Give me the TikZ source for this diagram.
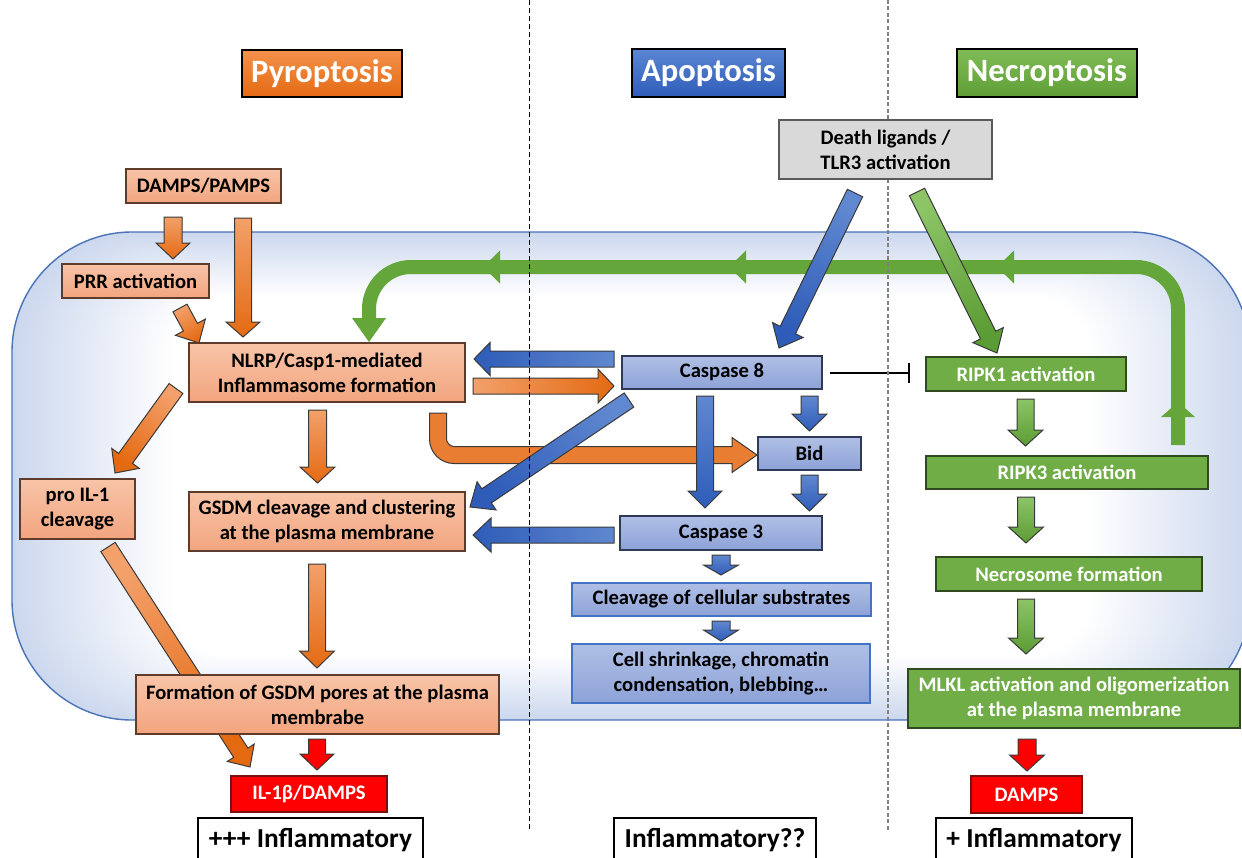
\documentclass[tikz,border=0pt]{standalone}
\usepackage{fontspec}
\setmainfont{Carlito}
\usetikzlibrary{calc,arrows.meta}
\definecolor{pyroT}{HTML}{F8C4A8}
\definecolor{pyroB}{HTML}{F2A57F}
\definecolor{pyroEdge}{HTML}{5E3B2A}
\definecolor{apoT}{HTML}{AFBFE5}
\definecolor{apoB}{HTML}{8EA2D8}
\definecolor{apoEdge}{HTML}{2E3A57}
\definecolor{apoLine}{HTML}{4472C4}
\definecolor{necG}{HTML}{70AD47}
\definecolor{necEdge}{HTML}{2F4A1E}
\definecolor{redF}{HTML}{FF0000}
\definecolor{redEdge}{HTML}{7A1010}
\definecolor{grayF}{HTML}{D9D9D9}
\definecolor{grayEdge}{HTML}{5A5A5A}
\definecolor{orTitT}{HTML}{F4914C}
\definecolor{orTitB}{HTML}{E46A12}
\definecolor{blTitT}{HTML}{5B86D3}
\definecolor{blTitB}{HTML}{2F5DB8}
\definecolor{grTitT}{HTML}{80BC56}
\definecolor{grTitB}{HTML}{5F9E37}
\definecolor{orA}{HTML}{F3A06A}
\definecolor{orB}{HTML}{E46A12}
\definecolor{blA}{HTML}{6088D0}
\definecolor{blB}{HTML}{2E5CB8}
\definecolor{grA}{HTML}{8CC466}
\definecolor{grB}{HTML}{5C9C34}
\definecolor{arrowEdge}{HTML}{3A3A3A}
\definecolor{fbGreen}{HTML}{64A63A}
\definecolor{cellBlue}{HTML}{CCD8EE}
\definecolor{cellEdge}{HTML}{4A72B8}
\newcommand\myfontb{\fontsize{10.3}{12.5}\selectfont\bfseries}
\newcommand\myfontt{\fontsize{16.3}{19}\selectfont\bfseries}
\newcommand\myfontv{\fontsize{13.7}{16}\selectfont\bfseries}
\newdimen\fadx
\newdimen\fady
% #1 style, #2 tail, #3 tip, #4 half shaft, #5 half head, #6 head length
\newcommand\fatarrow[6]{%
  \path #2 coordinate (faA);
  \path #3 coordinate (faB);
  \path ($(faB)!#6!(faA)$) coordinate (faH);
  \pgfextractx{\fadx}{\pgfpointdiff{\pgfpointanchor{faA}{center}}{\pgfpointanchor{faB}{center}}}%
  \pgfextracty{\fady}{\pgfpointdiff{\pgfpointanchor{faA}{center}}{\pgfpointanchor{faB}{center}}}%
  \pgfmathsetmacro\faang{atan2(\fady,\fadx)+90}%
  \path[#1, shading angle=\faang] ($(faA)!#4!90:(faB)$) -- ($(faH)!#4!90:(faB)$) -- ($(faH)!#5!90:(faB)$) -- (faB) -- ($(faH)!#5!-90:(faB)$) -- ($(faH)!#4!-90:(faB)$) -- ($(faA)!#4!-90:(faB)$) -- cycle;
}
\pgfdeclarelayer{bg}
\pgfdeclarelayer{dash}
\pgfdeclarelayer{fg}
\pgfsetlayers{bg,main,dash,fg}
\begin{document}
\begin{tikzpicture}[x=0.5pt,y=-0.5pt,
  box/.style={inner sep=0pt, outer sep=0pt, align=center, font=\myfontb, line width=0.6pt},
  pyrobox/.style={box, top color=pyroT, bottom color=pyroB, draw=pyroEdge},
  apobox/.style={box, top color=apoT, bottom color=apoB, draw=apoEdge},
  apolbox/.style={box, top color=apoT, bottom color=apoB, draw=apoLine},
  necbox/.style={box, fill=necG, draw=necEdge, text=white},
  redbox/.style={box, fill=redF, draw=redEdge, text=white},
  graybox/.style={box, fill=grayF, draw=grayEdge},
  verdict/.style={box, fill=white, draw=black, line width=0.7pt, font=\myfontv},
  titlebox/.style={inner sep=0pt, outer sep=0pt, draw=black, line width=1.2pt, text=white, font=\myfontt},
  orarrow/.style={top color=orA, bottom color=orB, draw=arrowEdge, line width=0.5pt},
  blarrow/.style={top color=blA, bottom color=blB, draw=arrowEdge, line width=0.5pt},
  grarrow/.style={top color=grA, bottom color=grB, draw=arrowEdge, line width=0.5pt},
  redarrow/.style={top color=redF, bottom color=redF, draw=arrowEdge, line width=0.5pt},
  fbline/.style={draw=fbGreen, line width=7pt, rounded corners=21pt},
  fbhead/.style={fill=fbGreen}
]
\useasboundingbox (0,0) rectangle (1242,857);

% ---------------- cell ----------------
\begin{pgfonlayer}{bg}
  \foreach \i in {0,...,40}{
    \pgfmathsetmacro\ix{\i*4}
    \pgfmathsetmacro\iy{\i*1.6}
    \pgfmathsetmacro\pc{100-\i*2.5}
    \pgfmathsetmacro\rc{60-\i*0.8}
    \fill[cellBlue!\pc!white, rounded corners=\rc pt] ({12+\ix},{232+\iy}) rectangle ({1250-\ix},{720-\iy});
  }
  \draw[cellEdge, line width=0.7pt, rounded corners=60pt] (12,232) rectangle (1250,720);
\end{pgfonlayer}

% ---------------- nodes ----------------
\begin{pgfonlayer}{fg}
  \node[titlebox, top color=orTitT, bottom color=orTitB, minimum width=80pt, minimum height=23.5pt] (tpyro) at (322,73.5) {Pyroptosis};
  \node[titlebox, top color=blTitT, bottom color=blTitB, minimum width=76.5pt, minimum height=24pt] (tapo) at (708.5,73) {Apoptosis};
  \node[titlebox, top color=grTitT, bottom color=grTitB, minimum width=90pt, minimum height=24pt] (tnec) at (1047,73) {Necroptosis};

  \node[pyrobox, minimum width=77.5pt, minimum height=17pt] (damps) at (203.5,186) {DAMPS/PAMPS};
  \node[pyrobox, minimum width=73.5pt, minimum height=17pt] (prr) at (135.5,281) {PRR activation};
  \node[pyrobox, minimum width=138pt, minimum height=29.5pt] (nlrp) at (327,372.5) {NLRP/Casp1-mediated\\Inflammasome formation};
  \node[pyrobox, minimum width=57.5pt, minimum height=30pt] (proil) at (77.5,509) {pro IL-1\\cleavage};
  \node[pyrobox, minimum width=138pt, minimum height=29.5pt] (gsdm) at (327,521.5) {GSDM cleavage and clustering\\at the plasma membrane};
  \node[pyrobox, minimum width=181.5pt, minimum height=29.5pt] (form) at (317.5,704.5) {Formation of GSDM pores at the plasma\\membrabe};
  \node[redbox, minimum width=78pt, minimum height=18pt] (il1b) at (309,794) {IL-1β/DAMPS};
  \node[verdict, minimum width=112.5pt, minimum height=22pt] (inf1) at (310.5,840) {+++ Inflammatory};

  \node[graybox, minimum width=106.5pt, minimum height=29.5pt] (death) at (885.5,149.5) {Death ligands /\\TLR3 activation};
  \node[apobox, minimum width=100pt, minimum height=16.5pt] (casp8) at (722,372.5) {Caspase 8};
  \node[apobox, minimum width=51.5pt, minimum height=16.5pt] (bid) at (809.5,453.5) {Bid};
  \node[apobox, minimum width=101pt, minimum height=17pt] (casp3) at (721,533) {Caspase 3};
  \node[apolbox, minimum width=149.5pt, minimum height=16.5pt] (cleav) at (721.5,599.5) {Cleavage of cellular substrates};
  \node[apolbox, minimum width=149pt, minimum height=29.5pt] (shrink) at (721,673.5) {Cell shrinkage, chromatin\\condensation, blebbing…};
  \node[verdict, minimum width=101pt, minimum height=22pt] (inf2) at (715,840) {Inflammatory??};

  \node[necbox, minimum width=100pt, minimum height=17pt] (ripk1) at (1026,374) {RIPK1 activation};
  \node[necbox, minimum width=141pt, minimum height=16.5pt] (ripk3) at (1067,472.5) {RIPK3 activation};
  \node[necbox, minimum width=133pt, minimum height=17pt] (necro) at (1069,574) {Necrosome formation};
  \node[necbox, minimum width=166pt, minimum height=29.5pt] (mlkl) at (1074,698.5) {MLKL activation and oligomerization\\at the plasma membrane};
  \node[redbox, minimum width=55.5pt, minimum height=18.5pt] (damps2) at (1026.5,794.5) {DAMPS};
  \node[verdict, minimum width=98pt, minimum height=22pt] (inf3) at (1034,840) {+ Inflammatory};
\end{pgfonlayer}

% ---------------- dashed separators ----------------
\begin{pgfonlayer}{dash}
  \coordinate (sepAtop) at (529,0);
  \coordinate (sepAbot) at (529,830);
  \coordinate (sepBtop) at (888,0);
  \coordinate (sepBbot) at (888,830);
  \draw[black, line width=0.5pt, dash pattern=on 2.5pt off 1.5pt] (sepAtop) -- (sepAbot);
  \draw[black!50, line width=0.8pt, dash pattern=on 2pt off 1.2pt] (sepBtop) -- (sepBbot);
\end{pgfonlayer}

% ---------------- green feedback loop ----------------
\coordinate (fbs) at ([shift={(111,-11)}]ripk3.north);
\coordinate (fbm) at (700,267);
\coordinate (fbe) at ([shift={(42,-25)}]nlrp.north);
\draw[fbline] (fbs) |- (fbm) -| (fbe);
\fill[fbhead] ([shift={(-17,0)}]fbe) -- ([shift={(42,-1)}]nlrp.north) -- ([shift={(17,0)}]fbe) -- cycle;
\fill[fbhead] (1161,417) -- (1178,402) -- (1195,417) -- cycle;
\foreach \tx in {483,729,997}{
  \fill[fbhead] (\tx,267) -- ({\tx+17},250.5) -- ({\tx+17},283.5) -- cycle;
}

% ---------------- pyroptosis arrows ----------------
\fatarrow{orarrow}{([shift={(-30.5,14)}]damps.south)}{([shift={(37.5,-5)}]prr.north)}{4.5pt}{8.5pt}{8pt}
\fatarrow{orarrow}{([shift={(39.5,15)}]damps.south)}{([shift={(-84,-6)}]nlrp.north)}{4.25pt}{8.5pt}{7.5pt}
\fatarrow{orarrow}{([shift={(44.5,10)}]prr.south)}{([shift={(10,0)}]nlrp.north west)}{4pt}{8.5pt}{9pt}
\fatarrow{orarrow}{([shift={(-13,-13.5)}]nlrp.south west)}{([shift={(37.5,-6)}]proil.north)}{4.25pt}{8.5pt}{9pt}
\fatarrow{orarrow}{([shift={(-9.5,8)}]nlrp.south)}{([shift={(-9.5,-9)}]gsdm.north)}{4.5pt}{8.75pt}{8pt}
\fatarrow{orarrow}{([shift={(-10,13)}]gsdm.south)}{([shift={(-0.5,-7)}]form.north)}{4.25pt}{8.75pt}{8.5pt}
\fatarrow{orarrow}{([shift={(30.5,8)}]proil.south)}{([shift={(19,-9)}]il1b.north west)}{4.25pt}{8pt}{8.5pt}
\fatarrow{orarrow}{([shift={(8,13.5)}]nlrp.east)}{([shift={(-8,13.5)}]casp8.west)}{4pt}{8.5pt}{8pt}
\fatarrow{redarrow}{([shift={(-0.5,5)}]form.south)}{([shift={(8,-6)}]il1b.north)}{4.25pt}{8.5pt}{8pt}

% bent arrow NLRP -> Bid
\coordinate (bt) at ([shift={(111,11)}]nlrp.south);
\begin{scope}[shift={(bt)}]
  \path[fill=orA!35!orB, draw=arrowEdge, line width=0.5pt]
    (-8.5,0) -- (-8.5,26) .. controls (-8.5,39.5) and (2.5,50.5) .. (16,50.5)
    -- (294,50.5) -- (294,59.5) -- (319,42) -- (294,24.5) -- (294,33.5) -- (16,33.5)
    .. controls (11.9,33.5) and (8.5,29.4) .. (8.5,26) -- (8.5,0) -- cycle;
\end{scope}

% ---------------- apoptosis arrows ----------------
\fatarrow{blarrow}{([shift={(-30.5,14)}]death.south)}{([shift={(57,-8)}]casp8.north)}{4.25pt}{8.5pt}{10pt}
\fatarrow{blarrow}{([shift={(-8,-13.5)}]casp8.west)}{([shift={(9,-13.5)}]nlrp.east)}{4pt}{8.25pt}{8pt}
\fatarrow{blarrow}{([shift={(7,11)}]casp8.south west)}{([shift={(5,-14.5)}]gsdm.east)}{4.25pt}{8.5pt}{10pt}
\fatarrow{blarrow}{([shift={(-17,7)}]casp8.south)}{([shift={(-16,-8)}]casp3.north)}{4.25pt}{8.5pt}{8.5pt}
\fatarrow{blarrow}{([shift={(87.5,7)}]casp8.south)}{([shift={(0,-6)}]bid.north)}{4.25pt}{8.75pt}{8.5pt}
\fatarrow{blarrow}{([shift={(0,5)}]bid.south)}{([shift={(88.5,-5)}]casp3.north)}{4.25pt}{8.75pt}{8.5pt}
\fatarrow{blarrow}{([shift={(-6,2)}]casp3.west)}{([shift={(8,13.5)}]gsdm.east)}{4pt}{8.5pt}{9pt}
\fatarrow{blarrow}{([shift={(0,5)}]casp3.south)}{([shift={(-0.5,-8)}]cleav.north)}{4.5pt}{8.75pt}{5pt}
\fatarrow{blarrow}{([shift={(-0.5,5)}]cleav.south)}{([shift={(0,-3)}]shrink.north)}{4.5pt}{8.75pt}{5.5pt}

% ---------------- necroptosis arrows ----------------
\fatarrow{grarrow}{([shift={(31.5,13)}]death.south)}{([shift={(-29,-4)}]ripk1.north)}{4.25pt}{8.5pt}{10pt}
\fatarrow{grarrow}{([shift={(-0.5,8)}]ripk1.south)}{([shift={(-41.5,-10)}]ripk3.north)}{4.25pt}{8.75pt}{8pt}
\fatarrow{grarrow}{([shift={(-41,8)}]ripk3.south)}{([shift={(-43,-14)}]necro.north)}{4.25pt}{8.75pt}{8pt}
\fatarrow{grarrow}{([shift={(-43,8)}]necro.south)}{([shift={(-48,-15)}]mlkl.north)}{4.25pt}{8.75pt}{8pt}
\fatarrow{redarrow}{([shift={(-47,11)}]mlkl.south)}{([shift={(0.5,-5)}]damps2.north)}{4.5pt}{8.75pt}{8pt}

% inhibition Caspase 8 -| RIPK1
\draw[black, line width=1pt, -{Bar[width=10pt, line width=1pt]}] ([shift={(8,0.5)}]casp8.east) -- ([shift={(-16,-1)}]ripk1.west);
\end{tikzpicture}
\end{document}
